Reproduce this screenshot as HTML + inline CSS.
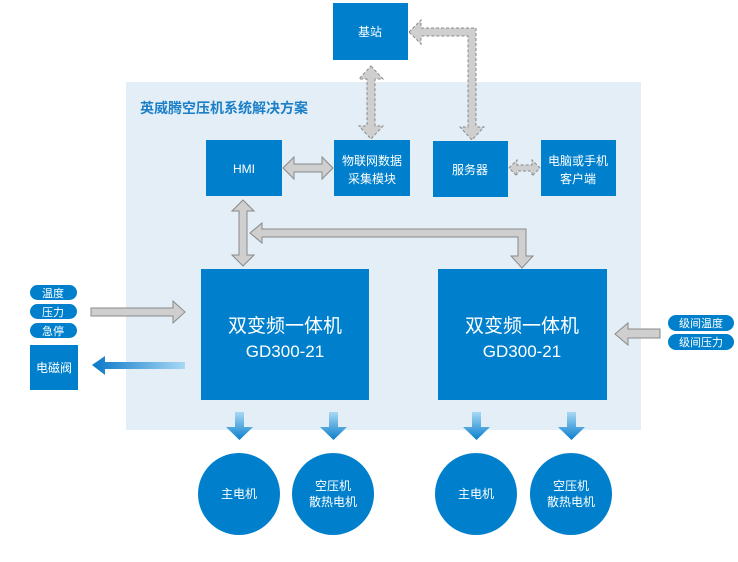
<!DOCTYPE html>
<html><head><meta charset="utf-8"><style>
body{margin:0;width:738px;height:557px;background:#fff;overflow:hidden}
svg text{font-family:"Liberation Sans","Noto Sans CJK SC",sans-serif;fill:#fff;text-anchor:middle}
</style></head><body>
<svg width="738" height="557" viewBox="0 0 738 557" xmlns="http://www.w3.org/2000/svg">
<defs>
<linearGradient id="gl" x1="0" x2="1" y1="0" y2="0"><stop offset="0" stop-color="#0a78c8"/><stop offset="1" stop-color="#a8d8f5"/></linearGradient>
<linearGradient id="gd" x1="0" x2="0" y1="0" y2="1"><stop offset="0" stop-color="#a8d8f5"/><stop offset="1" stop-color="#0a7fcc"/></linearGradient>
</defs>
<rect x="126" y="82" width="515" height="348" fill="#e3eef6"/>
<text x="140" y="113" style="fill:#1a7fc7;text-anchor:start;font-weight:bold" font-size="14">英威腾空压机系统解决方案</text>
<g fill="#0080cc">
<rect x="333" y="3" width="75" height="57"/>
<rect x="206" y="140" width="76" height="56"/>
<rect x="334" y="140" width="76" height="56"/>
<rect x="433" y="141" width="75" height="56"/>
<rect x="541" y="140" width="75" height="56"/>
<rect x="201" y="269" width="168" height="131"/>
<rect x="438" y="269" width="169" height="131"/>
<rect x="30" y="345" width="48" height="45"/>
<rect x="30" y="285" width="47" height="15" rx="7.5"/>
<rect x="30" y="304" width="47" height="15" rx="7.5"/>
<rect x="30" y="323" width="47" height="15" rx="7.5"/>
<rect x="668" y="315" width="66" height="16" rx="8"/>
<rect x="668" y="334" width="66" height="16" rx="8"/>
<ellipse cx="239" cy="494" rx="41" ry="41"/>
<ellipse cx="333" cy="494" rx="41" ry="41"/>
<ellipse cx="476" cy="494" rx="41" ry="41"/>
<ellipse cx="571" cy="494" rx="41" ry="41"/>
</g>
<text x="370" y="36" font-size="12">基站</text>
<text x="244" y="173" font-size="12">HMI</text>
<text x="372" y="165" font-size="12">物联网数据</text>
<text x="372" y="183" font-size="12">采集模块</text>
<text x="470" y="174" font-size="12">服务器</text>
<text x="578" y="165" font-size="12">电脑或手机</text>
<text x="578" y="183" font-size="12">客户端</text>
<text x="285" y="332" font-size="19">双变频一体机</text>
<text x="285" y="357" font-size="17">GD300-21</text>
<text x="522" y="332" font-size="19">双变频一体机</text>
<text x="522" y="357" font-size="17">GD300-21</text>
<text x="54" y="372" font-size="12">电磁阀</text>
<text x="53" y="297" font-size="11">温度</text>
<text x="53" y="316" font-size="11">压力</text>
<text x="53" y="335" font-size="11">急停</text>
<text x="701" y="327" font-size="11">级间温度</text>
<text x="701" y="346" font-size="11">级间压力</text>
<text x="239" y="498" font-size="12">主电机</text>
<text x="333" y="490" font-size="12">空压机</text>
<text x="333" y="506" font-size="12">散热电机</text>
<text x="476" y="498" font-size="12">主电机</text>
<text x="571" y="490" font-size="12">空压机</text>
<text x="571" y="506" font-size="12">散热电机</text>
<g fill="#cfcfcf" stroke="#8a8a8a" stroke-width="1">
<polygon points="283,168 294,157 294,164 322,164 322,157 333,168 322,179 322,172 294,172 294,179"/>
<polygon points="243,200 254,211 247,211 247,255 254,255 243,266 232,255 239,255 239,211 232,211"/>
<polygon points="250,233 262,223 262,229 526,229 526,256 533,256 522,268 511,256 518,256 518,237 262,237 262,243"/>
<polygon points="91,308 173,308 173,301 185,312 173,323 173,316 91,316"/>
<polygon points="615,334 628,323 628,329 660,329 660,338 628,338 628,345"/>
</g>
<g fill="#cfcfcf" stroke="#8a8a8a" stroke-width="1" stroke-dasharray="3,2">
<polygon points="371,66 383,79 375,79 375,126 383,126 371,139 359,126 367,126 367,79 359,79"/>
<polygon points="409,32 421,20 421,28 476,28 476,127 484,127 472,140 460,127 468,127 468,36 421,36 421,44"/>
<polygon points="509,168 517,160 517,165 532,165 532,160 540,168 532,176 532,171 517,171 517,176"/>
</g>
<polygon points="92,365 105,356 105,362 185,362 185,369 105,369 105,375" fill="url(#gl)"/>
<g fill="url(#gd)">
<polygon points="235,412 244,412 244,427 253,427 239.5,440 226,427 235,427"/>
<polygon points="329,412 338,412 338,427 347,427 333.5,440 320,427 329,427"/>
<polygon points="472,412 481,412 481,427 490,427 476.5,440 463,427 472,427"/>
<polygon points="567,412 576,412 576,427 585,427 571.5,440 558,427 567,427"/>
</g>
</svg>
</body></html>
